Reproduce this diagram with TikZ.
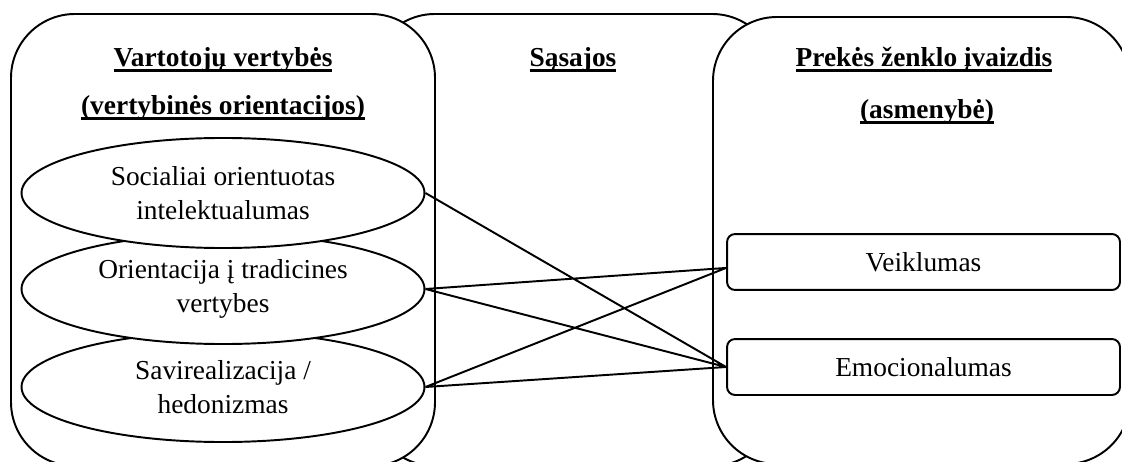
\documentclass[tikz,border=0pt]{standalone}
\usepackage{fontspec}
\setmainfont{Liberation Serif}
\usetikzlibrary{shapes.geometric}
\newsavebox{\headbox}
\newcommand{\headline}[1]{\sbox{\headbox}{#1}\rlap{\rule[-2pt]{\wd\headbox}{1.3pt}}\usebox{\headbox}}

\begin{document}
\begin{tikzpicture}[x=0.438pt, y=-0.438pt, line width=0.85pt,
    bigbox/.style={draw, fill=white, rounded corners=28pt},
    titletext/.style={anchor=base, font=\fontsize{12}{14.9}\selectfont\bfseries},
    valnode/.style={ellipse, draw, fill=white, minimum width=176.5pt, minimum height=48.2pt,
      inner sep=0pt, align=center, font=\fontsize{12}{14.9}\selectfont},
    traitbox/.style={draw, fill=white, rounded corners=3.5pt, minimum width=172.1pt,
      minimum height=24.5pt, inner sep=0pt, font=\fontsize{12}{14.9}\selectfont},
  ]
    \useasboundingbox (0,0) rectangle (1122,462);
    \clip (0,0) rectangle (1122,462);

    % three large panels, middle one behind
    \draw[bigbox] (371,14) rectangle (776,466);
    \draw[bigbox] (11,14) rectangle (435,466);
    \draw[bigbox] (713,17) rectangle (1130,464);

    \node[titletext] (valtitle) at (223,67) {\headline{Vartotojų vertybės}};
    \node[titletext] (valsub) at (223,115) {\headline{(vertybinės orientacijos)}};
    \node[titletext] (linktitle) at (573,67) {\headline{Sąsajos}};
    \node[titletext] (brandtitle) at (924,67) {\headline{Prekės ženklo įvaizdis}};
    \node[titletext] (brandsub) at (927,119) {\headline{(asmenybė)}};

    % value orientations (lowest first, so upper ones overlap)
    \node[valnode] (hedon) at (223,387) {Savirealizacija /\\hedonizmas};
    \node[valnode] (trad) at (223,289) {Orientacija į tradicines\\vertybes};
    \node[valnode] (intel) at (223,193) {Socialiai orientuotas\\intelektualumas};

    % personality dimensions
    \node[traitbox] (veik) at (923.5,262) {Veiklumas};
    \node[traitbox] (emo) at (923.5,367) {Emocionalumas};
    \coordinate (veikin) at ([yshift=-2.6pt]veik.west);

    \draw (intel.east) -- (emo.west)
    (trad.east) -- (veikin)
    (trad.east) -- (emo.west)
    (hedon.east) -- (veikin)
    (hedon.east) -- (emo.west)
    ;
\end{tikzpicture}
\end{document}
